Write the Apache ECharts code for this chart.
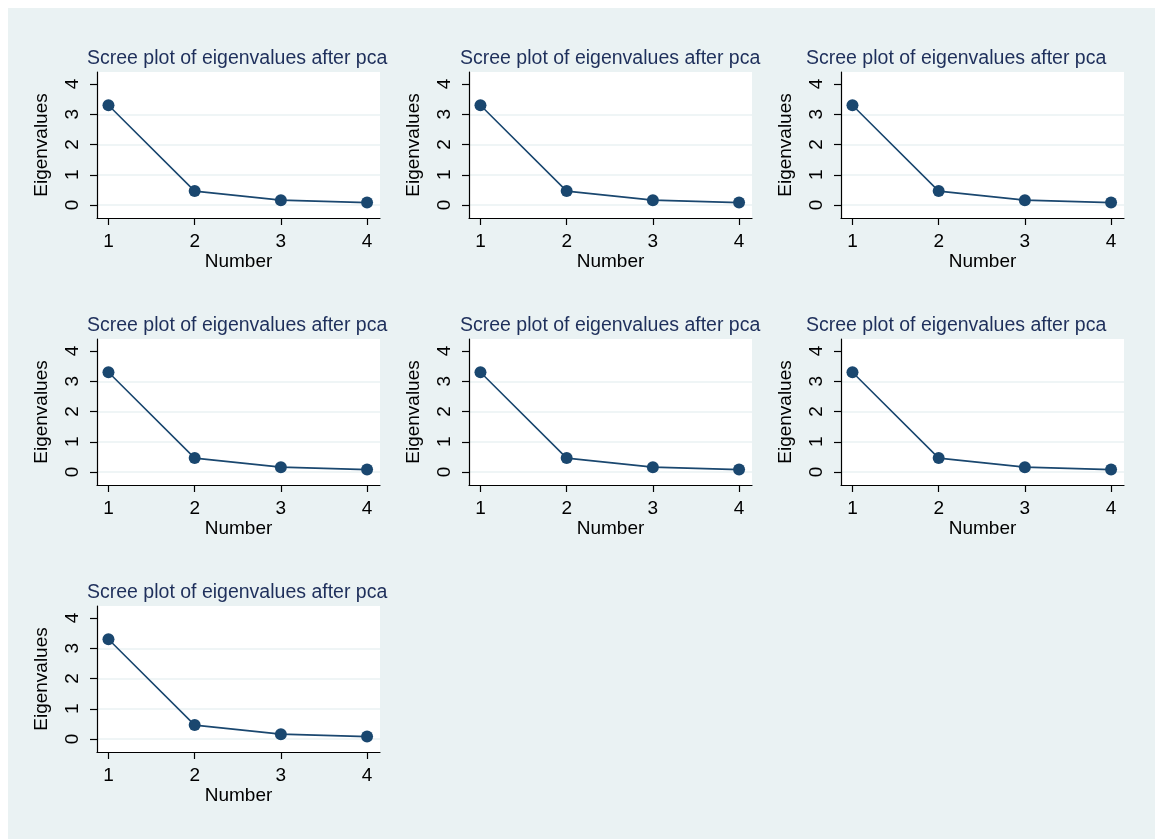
<!DOCTYPE html>
<html>
<head>
<meta charset="utf-8">
<script src="https://cdn.jsdelivr.net/npm/echarts@6/dist/echarts.min.js"></script>
<style>
  html, body { margin: 0; padding: 0; background: #ffffff; }
  #bg { position: absolute; left: 8px; top: 8px; width: 1147px; height: 831px; background: #eaf2f3; }
  #chart { position: absolute; left: 0; top: 0; width: 1155px; height: 839px; }
</style>
</head>
<body>
<div id="bg"></div>
<div id="chart"></div>
<script>
// ---- data ----
const components = [1, 2, 3, 4];
const eigenvalues = [3.30, 0.46, 0.16, 0.08];
const yTickValues = [0, 1, 2, 3, 4];
const xTickValues = [1, 2, 3, 4];
const panelTitles = [
  'Scree plot of eigenvalues after pca',
  'Scree plot of eigenvalues after pca',
  'Scree plot of eigenvalues after pca',
  'Scree plot of eigenvalues after pca',
  'Scree plot of eigenvalues after pca',
  'Scree plot of eigenvalues after pca',
  'Scree plot of eigenvalues after pca'
];
const yAxisName = 'Eigenvalues';
const xAxisName = 'Number';

// ---- layout ----
const colLefts = [97, 469, 841];
const rowTops = [72, 339, 606];
const titleLefts = [87, 460, 806];
const plotW = 283, plotH = 146;
const FONT = 'Liberation Sans, Arial, Helvetica, sans-serif';
const NAVY = '#1a476f';
const GRIDC = '#eaf2f3';

const chart = echarts.init(document.getElementById('chart'), null, { renderer: 'canvas' });

const grids = [], xAxes = [], yAxes = [], series = [], titles = [];
panelTitles.forEach((t, i) => {
  const r = Math.floor(i / 3), c = i % 3;
  grids.push({
    left: colLefts[c], top: rowTops[r], width: plotW, height: plotH,
    show: true, backgroundColor: '#ffffff', borderWidth: 0, containLabel: false
  });
  titles.push({
    text: t, left: titleLefts[c], top: rowTops[r] - 24, padding: 0,
    textStyle: { fontFamily: FONT, fontSize: 19.5, fontWeight: 'normal', color: '#1e2f5b', lineHeight: 22 }
  });
  xAxes.push({
    type: 'value', gridIndex: i, min: 0.867, max: 4.15,
    name: xAxisName, nameLocation: 'middle', nameGap: 33,
    nameTextStyle: { fontFamily: FONT, fontSize: 19, color: '#000' },
    axisLine: { show: true, onZero: false, lineStyle: { color: '#000', width: 1.2 } },
    axisTick: { show: true, length: 7, customValues: xTickValues, lineStyle: { color: '#000', width: 1.2 } },
    axisLabel: { customValues: xTickValues, margin: 14, fontFamily: FONT, fontSize: 19, color: '#000' },
    splitLine: { show: false }
  });
  yAxes.push({
    type: 'value', gridIndex: i, min: -0.43, max: 4.4,
    name: yAxisName, nameLocation: 'middle', nameGap: 46, nameRotate: 90,
    nameTextStyle: { fontFamily: FONT, fontSize: 19, color: '#000' },
    axisLine: { show: true, onZero: false, lineStyle: { color: '#000', width: 1.2 } },
    axisTick: { show: true, length: 7, customValues: yTickValues, lineStyle: { color: '#000', width: 1.2 } },
    axisLabel: { customValues: yTickValues, rotate: 90, margin: 15, fontFamily: FONT, fontSize: 19, color: '#000' },
    splitLine: { show: true, lineStyle: { color: [GRIDC, GRIDC, GRIDC, GRIDC, 'rgba(0,0,0,0)'], width: 1.5 } }
  });
  series.push({
    type: 'line', xAxisIndex: i, yAxisIndex: i,
    data: components.map((k, j) => [k, eigenvalues[j]]),
    symbol: 'circle', symbolSize: 12, showSymbol: true,
    itemStyle: { color: NAVY },
    lineStyle: { color: NAVY, width: 1.6 },
    animation: false, silent: true
  });
});

chart.setOption({
  animation: false,
  backgroundColor: 'transparent',
  title: titles,
  grid: grids,
  xAxis: xAxes,
  yAxis: yAxes,
  series: series
});
</script>
</body>
</html>
